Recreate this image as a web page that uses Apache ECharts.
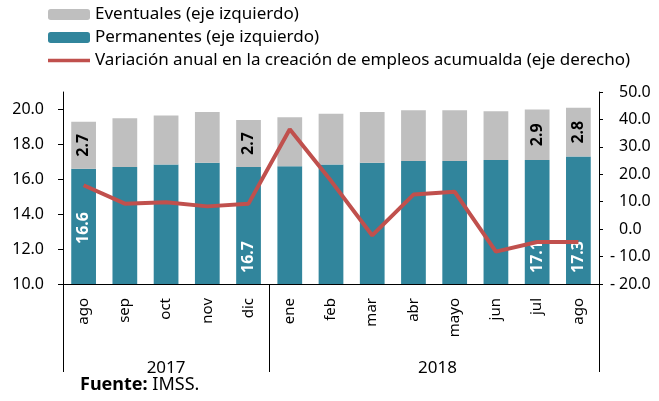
<!DOCTYPE html>
<html>
<head>
<meta charset="utf-8">
<script src="https://cdn.jsdelivr.net/npm/echarts@6/dist/echarts.min.js"></script>
<style>
  html, body { margin: 0; padding: 0; background: #fff; }
  #chart { width: 659px; height: 401px; }
</style>
</head>
<body>
<div id="chart"></div>
<script>
var months = ["ago", "sep", "oct", "nov", "dic", "ene", "feb", "mar", "abr", "mayo", "jun", "jul", "ago"];
var years = ["2017", "2018"];
var yearSize = [5, 8];
var permanentes = [16.6, 16.7, 16.85, 16.95, 16.7, 16.75, 16.85, 16.95, 17.05, 17.05, 17.1, 17.1, 17.3];
var eventuales = [2.7, 2.8, 2.8, 2.9, 2.7, 2.8, 2.9, 2.9, 2.9, 2.9, 2.8, 2.9, 2.8];
var variacion = [16.0, 9.3, 9.8, 8.3, 9.3, 36.4, 17.6, -2.3, 12.6, 13.6, -8.2, -4.7, -4.7];
var leftTicks = [10, 12, 14, 16, 18, 20];
var labelIdx = [0, 4, 11, 12];

var nombres = ["Eventuales (eje izquierdo)", "Permanentes (eje izquierdo)",
	"Variación anual en la creación de empleos acumualda (eje derecho)"];
var font = "Noto Sans";

// los grupos de año: bordes y posicion de la etiqueta
var bordes = [0];
for (var i = 0; i < yearSize.length; i++) {
	bordes.push(bordes[i] + yearSize[i]);
}

function yearLabel(idx) {
	for (var i = 0; i < years.length; i++) {
		var mid = Math.floor((bordes[i] + bordes[i + 1] - 1) / 2);
		if (idx == mid) {
			if ((bordes[i + 1] - bordes[i]) % 2 == 0) {
				return "{par|" + years[i] + "}";
			}
			return years[i];
		}
	}
	return "";
}

function dataLabels(values, pos) {
	var data = [];
	for (var i = 0; i < values.length; i++) {
		var item = { value: values[i] };
		if (labelIdx.indexOf(i) != -1) {
			item.label = { show: true };
			if (pos && i == 0) {
				item.label.distance = 56;
			}
		}
		data.push(item);
	}
	return data;
}

var chart = echarts.init(document.getElementById("chart"));

var option = {
	animation: false,
	textStyle: { fontFamily: font },
	legend: {
		orient: "vertical",
		left: 43,
		top: 1,
		itemWidth: 42,
		itemHeight: 11,
		itemGap: 6,
		data: [
			{ name: nombres[0] },
			{ name: nombres[1] },
			{ name: nombres[2], icon: "path://M0,0H46V4H0Z" }
		],
		textStyle: { fontFamily: font, fontSize: 17, color: "#000" }
	},
	grid: {
		left: 63,
		right: 60,
		top: 92,
		bottom: 117,
		outerBoundsMode: "none"
	},
	xAxis: [{
		type: "category",
		data: months,
		axisLine: { onZero: false, lineStyle: { color: "#000", width: 1 } },
		axisTick: { show: false },
		axisLabel: {
			rotate: 90,
			interval: 0,
			margin: 14,
			fontFamily: font,
			fontSize: 15,
			color: "#000"
		}
	}, {
		type: "category",
		data: months,
		position: "bottom",
		axisLine: { show: false, onZero: false },
		axisTick: {
			show: true,
			length: 88,
			interval: function (idx) { return bordes.indexOf(idx) != -1; },
			lineStyle: { color: "#000", width: 1 }
		},
		axisLabel: {
			interval: 0,
			margin: 76,
			fontFamily: font,
			fontSize: 17,
			color: "#000",
			formatter: function (v, idx) { return yearLabel(idx); },
			rich: {
				par: { fontFamily: font, fontSize: 17, color: "#000", padding: [0, 0, 0, 48] }
			}
		}
	}],
	yAxis: [{
		type: "value",
		min: 10,
		max: 21,
		interval: 2,
		splitLine: { show: false },
		axisLine: { show: true, lineStyle: { color: "#000", width: 1 } },
		axisTick: { show: true, length: 5, customValues: leftTicks, lineStyle: { color: "#000" } },
		axisLabel: {
			customValues: leftTicks,
			margin: 19,
			fontFamily: font,
			fontSize: 16,
			color: "#000",
			formatter: function (v) { return v.toFixed(1); }
		}
	}, {
		type: "value",
		min: -20,
		max: 50,
		interval: 10,
		position: "right",
		splitLine: { show: false },
		axisLine: { show: true, lineStyle: { color: "#000", width: 1 } },
		axisTick: { show: true, length: 4, lineStyle: { color: "#000" } },
		axisLabel: {
			margin: 11,
			align: "left",
			fontFamily: font,
			fontSize: 16,
			color: "#000",
			formatter: function (v) {
				if (v < 0) {
					return "{m|-}" + Math.abs(v).toFixed(1);
				}
				return "{m| }" + v.toFixed(1);
			},
			rich: {
				m: { width: 9, fontFamily: font, fontSize: 16, color: "#000" }
			}
		}
	}],
	series: [{
		name: nombres[1],
		type: "bar",
		stack: "empleo",
		barWidth: "60%",
		itemStyle: { color: "#31859C" },
		label: {
			show: false,
			position: "insideBottom",
			rotate: 90,
			align: "center",
			verticalAlign: "middle",
			distance: 27,
			fontFamily: font,
			fontSize: 16,
			fontWeight: "bold",
			color: "#fff",
			formatter: function (p) { return p.value.toFixed(1); }
		},
		data: dataLabels(permanentes, true)
	}, {
		name: nombres[0],
		type: "bar",
		stack: "empleo",
		itemStyle: { color: "#BFBFBF" },
		label: {
			show: false,
			position: "inside",
			rotate: 90,
			fontFamily: font,
			fontSize: 16,
			fontWeight: "bold",
			color: "#000",
			formatter: function (p) { return p.value.toFixed(1); }
		},
		data: dataLabels(eventuales, false)
	}, {
		name: nombres[2],
		type: "line",
		yAxisIndex: 1,
		symbol: "none",
		z: 5,
		lineStyle: { color: "#C0504D", width: 4 },
		itemStyle: { color: "#C0504D" },
		data: variacion
	}],
	graphic: [{
		type: "text",
		left: 80,
		top: 376,
		style: {
			text: "{b|Fuente:} IMSS.",
			fontFamily: font,
			fontSize: 18,
			fill: "#000",
			rich: {
				b: { fontFamily: font, fontSize: 18, fontWeight: "bold", fill: "#000" }
			}
		}
	}]
};

chart.setOption(option);
</script>
</body>
</html>
